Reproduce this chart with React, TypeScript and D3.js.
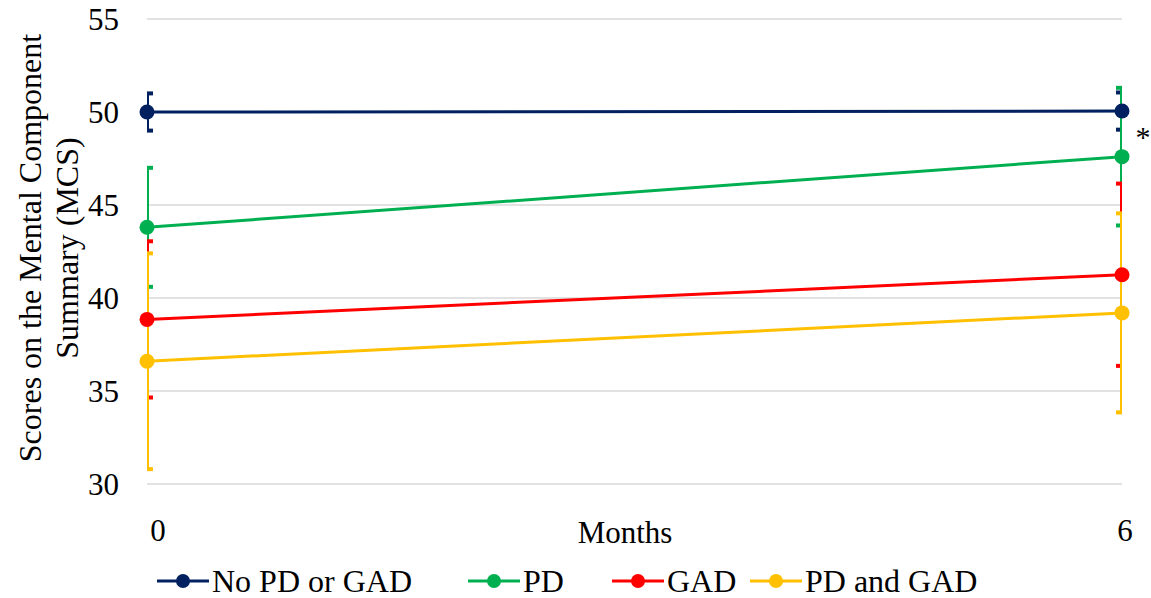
import React from "react";
import * as d3 from "d3";

// data
const months = [0, 6];
const seriesNames = ["No PD or GAD", "PD", "GAD", "PD and GAD"];
const seriesColors = ["#002060", "#00B050", "#FF0000", "#FFC000"];
const noneValues = [50.0, 50.05];
const noneErr = [1.0, 1.0];
const pdValues = [43.8, 47.6];
const pdErr = [3.2, 3.7];
const gadValues = [38.85, 41.25];
const gadErr = [4.2, 4.9];
const bothValues = [36.6, 39.2];
const bothErr = [5.8, 5.35];
const yTicks = [30, 35, 40, 45, 50, 55];

const width = 1151;
const height = 598;
const left = 147;
const right = 1122;
const top = 19;
const bottom = 484;

export default function App() {
  const x = d3.scaleLinear().domain([0, 6]).range([left, right]);
  const y = d3.scaleLinear().domain([30, 55]).range([bottom, top]);

  const series = [
    { values: noneValues, err: noneErr },
    { values: pdValues, err: pdErr },
    { values: gadValues, err: gadErr },
    { values: bothValues, err: bothErr },
  ].map((s, i) => ({ ...s, name: seriesNames[i], color: seriesColors[i] }));

  const line = d3
    .line<number>()
    .x((d, i) => x(months[i]))
    .y((d) => y(d));

  const font = "'Liberation Serif', 'Times New Roman', serif";
  const legendX = [157, 468, 612, 750];

  return (
    <div style={{ position: "absolute", left: 0, top: 0 }}>
      <svg width={width} height={height} style={{ fontFamily: font, display: "block" }}>
        <defs>
          <clipPath id="plot">
            <rect x={left} y={0} width={right - left} height={height} />
          </clipPath>
        </defs>
        {/* gridlines */}
        {yTicks.map((t) => (
          <line key={t} x1={left} x2={right} y1={y(t)} y2={y(t)} stroke="#d9d9d9" strokeWidth={1.5} />
        ))}
        {yTicks.map((t) => (
          <text key={t} x={119} y={y(t)} dy="0.35em" textAnchor="end" fontSize={31}>
            {t}
          </text>
        ))}
        {/* error bars */}
        <g clipPath="url(#plot)">
          {series.map((s) =>
            s.values.map((v, i) => {
              const cx = x(months[i]);
              const y1 = y(v + s.err[i]);
              const y2 = y(v - s.err[i]);
              return (
                <g key={s.name + i} stroke={s.color} strokeWidth={4}>
                  <line x1={cx} x2={cx} y1={y1} y2={y2} />
                  <line x1={cx - 6} x2={cx + 6} y1={y1} y2={y1} />
                  <line x1={cx - 6} x2={cx + 6} y1={y2} y2={y2} />
                </g>
              );
            })
          )}
        </g>
        {/* lines and markers */}
        {series.map((s) => (
          <g key={s.name}>
            <path d={line(s.values) || ""} fill="none" stroke={s.color} strokeWidth={3} />
            {s.values.map((v, i) => (
              <circle key={i} cx={x(months[i])} cy={y(v)} r={7.5} fill={s.color} />
            ))}
          </g>
        ))}
        <text x={1143} y={147} fontSize={30} textAnchor="middle">*</text>
        {/* x axis labels */}
        <text x={x(0) + 11} y={530} dy="0.35em" fontSize={31} textAnchor="middle">0</text>
        <text x={x(6) + 3} y={530} dy="0.35em" fontSize={31} textAnchor="middle">6</text>
        <text x={625} y={532} dy="0.35em" fontSize={31} textAnchor="middle">Months</text>
        {/* y title */}
        <text transform="translate(30,248) rotate(-90)" fontSize={32} textAnchor="middle" dy="0.35em">
          Scores on the Mental Component
        </text>
        <text transform="translate(67,248) rotate(-90)" fontSize={32} textAnchor="middle" dy="0.35em">
          Summary (MCS)
        </text>
        {/* legend */}
        {series.map((s, i) => (
          <g key={s.name} transform={`translate(${legendX[i]},581)`}>
            <line x1={0} x2={52} y1={0} y2={0} stroke={s.color} strokeWidth={3} />
            <circle cx={26} cy={0} r={7} fill={s.color} />
            <text x={55} y={0} dy="0.35em" fontSize={32}>
              {s.name}
            </text>
          </g>
        ))}
      </svg>
    </div>
  );
}
